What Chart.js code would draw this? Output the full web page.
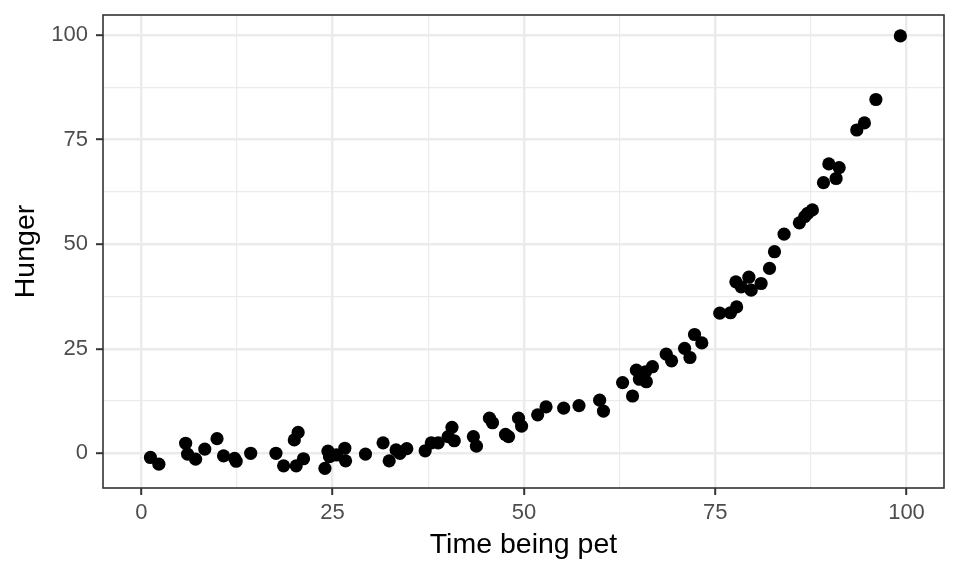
<!DOCTYPE html>
<html>
<head>
<meta charset="utf-8">
<script src="https://cdn.jsdelivr.net/npm/chart.js@4"></script>
<style>
  html, body { margin: 0; padding: 0; background: #ffffff; }
  #wrap { width: 960px; height: 576px; }
</style>
</head>
<body>
<div id="wrap"><canvas id="c" width="960" height="576"></canvas></div>
<script>
// Data
const timeBeingPet = [
  1.2, 2.3, 5.8, 6.05, 7.1, 8.3, 9.9, 10.75, 12.2, 12.4,
  14.3, 17.6, 18.6, 20.0, 20.25, 20.5, 21.2, 24.0, 24.4, 24.6,
  25.5, 26.6, 26.7, 29.3, 31.6, 32.4, 33.3, 33.8, 34.7, 37.1,
  37.9, 38.8, 40.1, 40.6, 40.9, 43.4, 43.8, 45.5, 45.9, 47.6,
  48.0, 49.3, 49.7, 51.8, 52.9, 55.2, 57.2, 59.9, 60.4, 62.9,
  64.2, 64.7, 65.1, 65.9, 66.0, 66.8, 68.6, 69.3, 71.0, 71.7,
  72.3, 73.25, 75.6, 77.0, 77.8, 77.7, 78.4, 79.4, 79.7, 81.0,
  82.1, 82.75, 84.0, 86.0, 86.7, 87.1, 87.7, 89.15, 89.85, 90.8,
  91.2, 93.5, 94.5, 96.0, 99.2
];
const hunger = [
  -1.0, -2.6, 2.4, -0.2, -1.4, 1.0, 3.5, -0.6, -1.2, -1.9,
  0.0, 0.0, -3.0, 3.2, -3.0, 5.0, -1.3, -3.6, 0.5, -0.8,
  -0.4, 1.2, -1.8, -0.2, 2.5, -1.8, 0.8, 0.0, 1.1, 0.6,
  2.5, 2.5, 4.0, 6.2, 3.0, 4.0, 1.7, 8.4, 7.3, 4.5,
  4.0, 8.4, 6.5, 9.2, 11.1, 10.8, 11.4, 12.7, 10.1, 16.9,
  13.7, 19.9, 17.7, 19.5, 17.1, 20.7, 23.7, 22.1, 25.1, 22.9,
  28.4, 26.4, 33.5, 33.6, 35.0, 41.0, 39.8, 42.1, 39.0, 40.6,
  44.2, 48.2, 52.4, 55.1, 56.6, 57.4, 58.2, 64.7, 69.2, 65.7,
  68.3, 77.3, 79.0, 84.6, 99.8
];
const xTickValues = [0, 12.5, 25, 37.5, 50, 62.5, 75, 87.5, 100];
const yTickValues = [0, 12.5, 25, 37.5, 50, 62.5, 75, 87.5, 100];
const xTitle = 'Time being pet';
const yTitle = 'Hunger';

const points = timeBeingPet.map((x, i) => ({ x: x, y: hunger[i] }));
const isMajor = v => Math.abs(v % 25) < 1e-9;

const FONT = "'Liberation Sans', Arial, Helvetica, sans-serif";

const panelBorder = {
  id: 'panelBorder',
  afterDatasetsDraw(chart) {
    const a = chart.chartArea, ctx = chart.ctx;
    ctx.save();
    ctx.strokeStyle = '#333333';
    ctx.lineWidth = 1.6;
    ctx.strokeRect(a.left, a.top, a.right - a.left, a.bottom - a.top);
    ctx.restore();
  }
};

function gridOpts() {
  return {
    color: '#EBEBEB',
    lineWidth: c => (c.tick && isMajor(c.tick.value)) ? 2.4 : 1.2,
    tickColor: c => (c.tick && isMajor(c.tick.value)) ? '#333333' : 'rgba(0,0,0,0)',
    tickLength: 7,
    tickWidth: 2,
    drawTicks: true,
    drawOnChartArea: true
  };
}

new Chart(document.getElementById('c'), {
  type: 'scatter',
  data: {
    datasets: [{
      data: points,
      backgroundColor: '#000000',
      borderWidth: 0,
      pointRadius: 6.6,
      pointHoverRadius: 6.6
    }]
  },
  options: {
    responsive: false,
    animation: false,
    devicePixelRatio: 1,
    layout: { padding: { top: 15, right: 16, left: 0, bottom: 0 } },
    plugins: { legend: { display: false }, tooltip: { enabled: false } },
    scales: {
      x: {
        type: 'linear',
        min: -5.0,
        max: 104.9,
        afterBuildTicks: s => { s.ticks = xTickValues.map(v => ({ value: v })); },
        afterFit: s => { s.height = 88; s.paddingLeft = 0; s.paddingRight = 0; },
        border: { display: false },
        grid: gridOpts(),
        ticks: {
          autoSkip: false,
          maxRotation: 0,
          padding: 5,
          color: '#4D4D4D',
          font: { family: FONT, size: 22 },
          callback: v => isMajor(v) ? String(v) : ''
        },
        title: {
          display: true,
          text: xTitle,
          color: '#000000',
          font: { family: FONT, size: 28.5 },
          padding: { top: 0, bottom: 13.5 }
        }
      },
      y: {
        type: 'linear',
        min: -8.3,
        max: 104.8,
        afterBuildTicks: s => { s.ticks = yTickValues.map(v => ({ value: v })); },
        afterFit: s => { s.width = 103; s.paddingTop = 0; s.paddingBottom = 0; },
        border: { display: false },
        grid: gridOpts(),
        ticks: {
          autoSkip: false,
          padding: 8,
          color: '#4D4D4D',
          font: { family: FONT, size: 22 },
          callback: v => isMajor(v) ? String(v) : ''
        },
        title: {
          display: true,
          text: yTitle,
          color: '#000000',
          font: { family: FONT, size: 28.5 },
          padding: { top: 9, bottom: 0 }
        }
      }
    }
  },
  plugins: [panelBorder]
});
</script>
</body>
</html>
